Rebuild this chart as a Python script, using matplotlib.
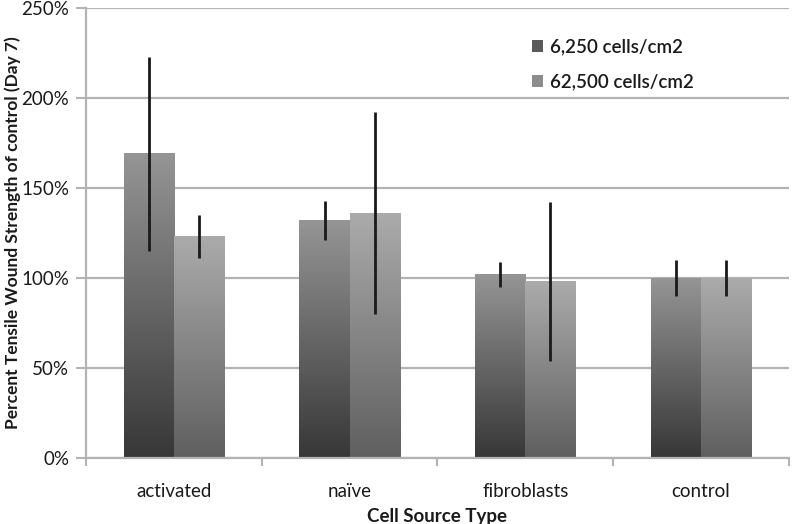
import matplotlib
matplotlib.use('Agg')
import matplotlib.pyplot as plt
import numpy as np
from matplotlib.colors import LinearSegmentedColormap
from matplotlib.patches import Patch

categories = ['activated', 'naïve', 'fibroblasts', 'control']
series_names = ['6,250 cells/cm2', '62,500 cells/cm2']
low_density = [169, 132, 102, 100]
low_err = [54, 11, 7, 10]
high_density = [123, 136, 98, 100]
high_err = [12, 56, 44, 10]
yticks = [0, 50, 100, 150, 200, 250]

plt.rcParams['font.family'] = ['Lato', 'DejaVu Sans']
TXT = '#1a1a1a'
GRID = '#b3b3b3'

fig = plt.figure(figsize=(7.92, 5.24), dpi=100)
ax = fig.add_axes([0.1086, 0.126, 0.8874, 0.8587])

cmap_dark = LinearSegmentedColormap.from_list('d', ['#373737', '#959595'])
cmap_light = LinearSegmentedColormap.from_list('l', ['#5f5f5f', '#ababab'])
grad = np.linspace(0, 1, 256).reshape(-1, 1)

w = 0.285
x = np.arange(len(categories))
for vals, errs, off, cm in [(low_density, low_err, -w / 2, cmap_dark),
                            (high_density, high_err, w / 2, cmap_light)]:
    bars = ax.bar(x + off, vals, width=w, color='none', edgecolor='none', zorder=2)
    for b in bars:
        x0, y0 = b.get_x(), b.get_y()
        ax.imshow(grad, cmap=cm, origin='lower', aspect='auto',
                  extent=(x0, x0 + b.get_width(), y0, y0 + b.get_height()),
                  zorder=2, interpolation='bilinear')
    ax.errorbar(x + off, vals, yerr=errs, fmt='none', ecolor='#1a1a1a',
                elinewidth=2, capsize=0, zorder=3)

ax.set_xlim(-0.5, len(categories) - 0.5)
ax.set_ylim(0, 250)
ax.set_yticks(yticks)
ax.set_yticklabels([f'{v}%' for v in yticks], fontsize=13.5, color=TXT)
ax.yaxis.grid(True, color=GRID, linewidth=1.6, zorder=0)
ax.set_axisbelow(True)

ax.set_xticks(x)
ax.set_xticklabels(categories, fontsize=13.5, color=TXT)
ax.set_xticks(np.arange(-0.5, len(categories) + 0.5, 1), minor=True)
ax.tick_params(axis='x', which='major', length=0, pad=18)
ax.tick_params(axis='x', which='minor', length=6, color=GRID, width=1.5)
ax.tick_params(axis='y', length=7, color=GRID, width=1.5, pad=5)

for s in ['top', 'right']:
    ax.spines[s].set_visible(False)
for s in ['left', 'bottom']:
    ax.spines[s].set_color(GRID)
    ax.spines[s].set_linewidth(1.6)

ax.set_xlabel('Cell Source Type', fontsize=13.5, fontweight='bold', color=TXT, labelpad=6)
fig.text(13 / 792, 1 - 233 / 524, 'Percent Tensile Wound Strength of control (Day 7)',
         rotation=90, ha='center', va='center', fontsize=12.5, fontweight='bold', color=TXT)

handles = [Patch(facecolor='#5a5a5a', edgecolor='none'),
           Patch(facecolor='#8c8c8c', edgecolor='none')]
leg = ax.legend(handles, series_names, loc='upper left', bbox_to_anchor=(0.61, 0.97),
                frameon=False, fontsize=13.5, handlelength=0.6, handleheight=0.6,
                handletextpad=0.4, labelspacing=0.95)
for t in leg.get_texts():
    t.set_color(TXT)
    t.set_fontweight('semibold')

fig.savefig('out.png', dpi=100)
